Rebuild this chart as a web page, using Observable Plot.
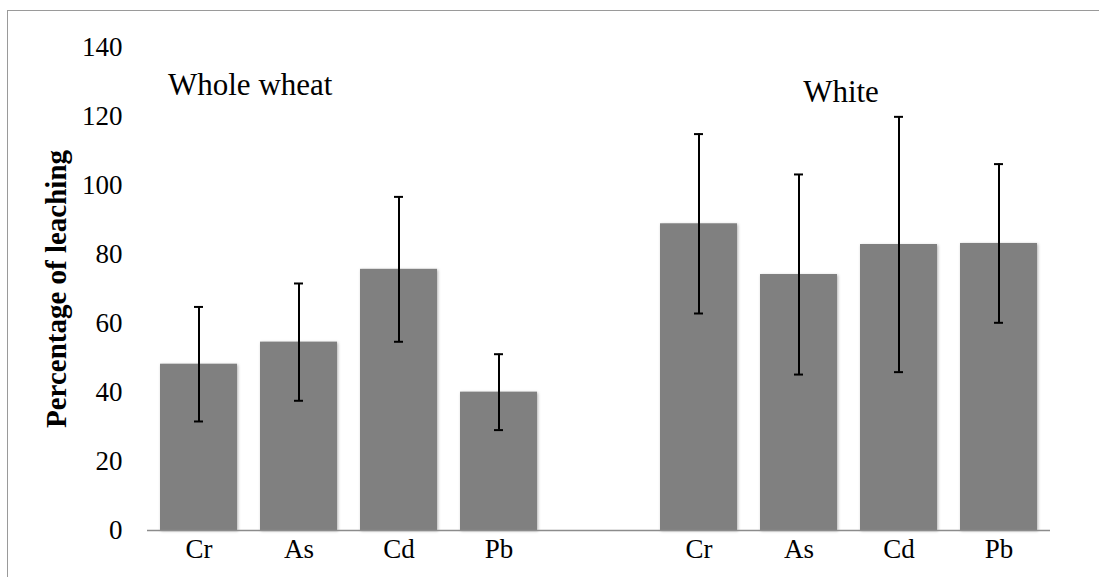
<!DOCTYPE html>
<html><head><meta charset="utf-8">
<script src="https://cdn.jsdelivr.net/npm/d3@7"></script>
<script src="https://cdn.jsdelivr.net/npm/@observablehq/plot@0.6"></script>
<style>
body{margin:0;background:#fff;}
#frame{position:absolute;left:7px;top:10px;width:1100px;height:620px;border:1.5px solid #9a9a9a;box-sizing:border-box;}
#chart{position:absolute;left:0;top:0;}
#chart svg, #chart svg g, #chart svg text{font-family:"Liberation Serif","Times New Roman",serif !important;}
#chart g[aria-label="bar"]{filter:drop-shadow(1.5px 1.5px 1.5px rgba(0,0,0,0.3));}
</style></head><body>
<div id="frame"></div><div id="chart"></div>
<script>
const groups = ["Whole wheat", "White"];
const metals = ["Cr", "As", "Cd", "Pb"];
const wholeWheatMeans = [48.2, 54.6, 75.7, 40.1];
const wholeWheatErrors = [16.6, 17.0, 21.0, 11.0];
const whiteMeans = [88.9, 74.2, 82.9, 83.2];
const whiteErrors = [26.0, 29.0, 37.0, 23.0];
const yTicks = [0, 20, 40, 60, 80, 100, 120, 140];
const yLabel = "Percentage of leaching";

const rows = [];
metals.forEach((m, i) => rows.push({key: groups[0] + "|" + m, mean: wholeWheatMeans[i], err: wholeWheatErrors[i]}));
metals.forEach((m, i) => rows.push({key: groups[1] + "|" + m, mean: whiteMeans[i], err: whiteErrors[i]}));
const domain = [...rows.slice(0, 4).map(d => d.key), "gap", ...rows.slice(4).map(d => d.key)];

const font = "Liberation Serif";

const chart = Plot.plot({
  width: 1099,
  height: 577,
  marginLeft: 147,
  marginRight: 49,
  marginTop: 47,
  marginBottom: 47,
  style: {fontFamily: font, fontSize: "27px", color: "black", background: "transparent", overflow: "visible"},
  x: {type: "band", domain, paddingInner: 0.23, paddingOuter: 0.115, axis: null},
  y: {domain: [0, 140], axis: null},
  marks: [
    Plot.barY(rows, {x: "key", y: "mean", fill: "#808080"}),
    Plot.ruleY([0], {stroke: "#8c8c8c", strokeWidth: 1.5}),
    Plot.axisY({ticks: yTicks, tickSize: 0, tickPadding: 25, line: true, stroke: "#8c8c8c", label: null, fontSize: 27, fontFamily: font, fill: "black"}),
    Plot.axisX({tickSize: 0, tickPadding: 8, label: null, fontSize: 27, fontFamily: font, fill: "black",
      tickFormat: k => k === "gap" ? "" : k.split("|")[1]}),
    Plot.ruleX(rows, {x: "key", y1: d => d.mean - d.err, y2: d => d.mean + d.err, stroke: "black", strokeWidth: 2}),
    Plot.tickY(rows, {x: "key", y: d => d.mean - d.err, stroke: "black", strokeWidth: 2, insetLeft: 34, insetRight: 34}),
    Plot.tickY(rows, {x: "key", y: d => d.mean + d.err, stroke: "black", strokeWidth: 2, insetLeft: 34, insetRight: 34}),
    Plot.text([groups[0]], {x: () => groups[0] + "|Cr", y: () => 129, text: d => d, textAnchor: "start", dx: -31, fontSize: 31, fontFamily: font}),
    Plot.text([groups[1]], {x: () => groups[1] + "|As", y: () => 127, text: d => d, textAnchor: "middle", dx: 42, fontSize: 31, fontFamily: font}),
    Plot.text([yLabel], {frameAnchor: "left", rotate: -90, dx: -91, textAnchor: "middle", text: d => d, fontWeight: "bold", fontSize: 29, fontFamily: font})
  ]
});
document.getElementById("chart").appendChild(chart);
</script>
</body></html>
